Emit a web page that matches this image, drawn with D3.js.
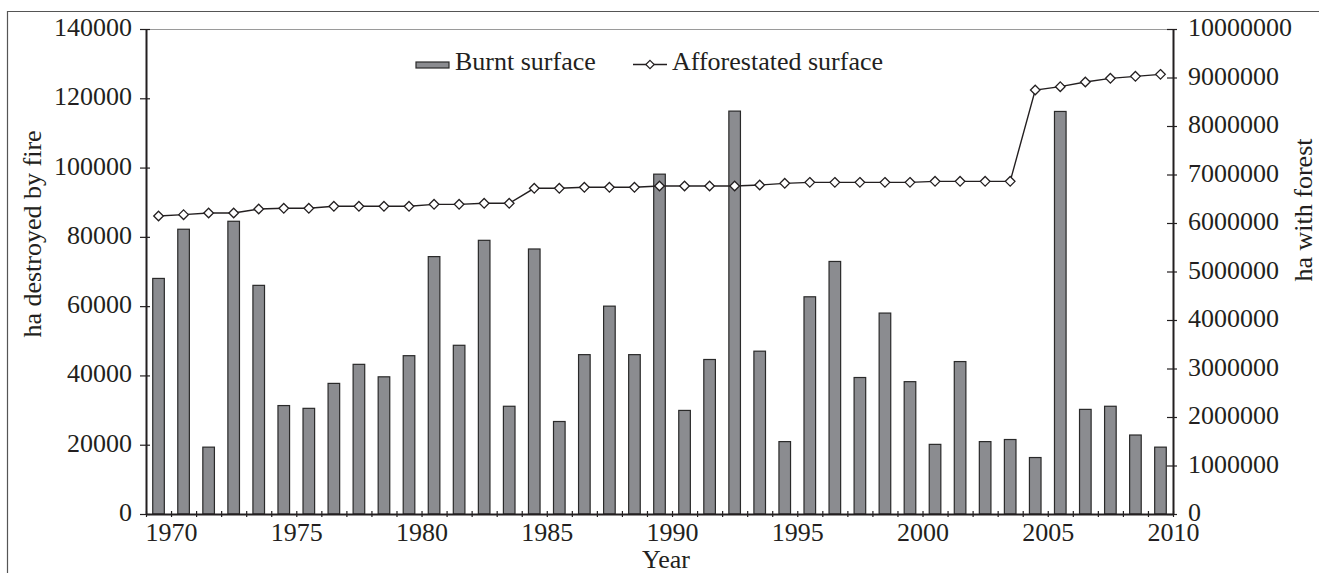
<!DOCTYPE html>
<html>
<head>
<meta charset="utf-8">
<script src="https://cdn.jsdelivr.net/npm/d3@7"></script>
<style>
  html, body { margin: 0; padding: 0; background: #fff; }
  svg { display: block; }
  text { font-family: "Liberation Serif", "Times New Roman", serif; fill: #231f20; }
</style>
</head>
<body>
<svg id="chart" width="1319" height="573"></svg>
<script>
const years = d3.range(1970, 2011);
const burntSurface = [
  68000, 82200, 19300, 84500, 66000, 31300, 30500, 37700, 43200, 39600,
  45700, 74300, 48700, 79000, 31100, 76500, 26700, 46000, 60000, 46000,
  98100, 29900, 44600, 116300, 47000, 20900, 62700, 72900, 39400, 58000,
  38200, 20100, 44000, 20900, 21500, 16300, 116200, 30200, 31100, 22800,
  19300
];
const afforestatedSurface = [
  6144000, 6172000, 6206000, 6206000, 6289000, 6303000, 6303000, 6344000, 6344000, 6344000,
  6344000, 6385000, 6385000, 6406000, 6406000, 6715000, 6715000, 6736000, 6736000, 6736000,
  6763000, 6763000, 6763000, 6763000, 6783000, 6818000, 6838000, 6838000, 6838000, 6838000,
  6838000, 6859000, 6859000, 6859000, 6859000, 8742000, 8811000, 8907000, 8983000, 9024000,
  9065000
];
const leftTicks = [0, 20000, 40000, 60000, 80000, 100000, 120000, 140000];
const rightTicks = [0, 1000000, 2000000, 3000000, 4000000, 5000000, 6000000, 7000000, 8000000, 9000000, 10000000];
const yearLabels = [1970, 1975, 1980, 1985, 1990, 1995, 2000, 2005, 2010];
const seriesNames = ["Burnt surface", "Afforestated surface"];
const leftTitle = "ha destroyed by fire";
const rightTitle = "ha with forest";
const xTitle = "Year";

const svg = d3.select("#chart");
const L = 146, R = 1173, T = 29, B = 514;
const FS = 26;
const ink = "#231f20";

const x = d3.scaleLinear().domain([1969, 2010]).range([L, R]);
const yL = d3.scaleLinear().domain([0, 140000]).range([B, T]);
const yR = d3.scaleLinear().domain([0, 10000000]).range([B, T]);

// outer frame
svg.append("path").attr("d", `M7.5,${573} L7.5,11.5 L1319,11.5`)
  .attr("fill", "none").attr("stroke", "#555").attr("stroke-width", 1.2);

// plot top border
svg.append("line").attr("x1", L).attr("x2", R).attr("y1", T + 0.5).attr("y2", T + 0.5)
  .attr("stroke", "#9a9a9a").attr("stroke-width", 1);

// bars
const bw = 11.6;
svg.append("g").selectAll("rect").data(years).join("rect")
  .attr("x", (d) => x(d - 0.5) - bw / 2)
  .attr("width", bw)
  .attr("y", (d, i) => yL(burntSurface[i]))
  .attr("height", (d, i) => B - yL(burntSurface[i]))
  .attr("fill", "#8b8c90")
  .attr("stroke", "#2a2a2a")
  .attr("stroke-width", 1.2);

// line
const line = d3.line().x((d) => x(d[0] - 0.5)).y((d) => yR(d[1]));
const pts = years.map((yv, i) => [yv, afforestatedSurface[i]]);
svg.append("path").datum(pts).attr("d", line)
  .attr("fill", "none").attr("stroke", ink).attr("stroke-width", 1.4);
const diamond = (cx, cy, r) => `M${cx},${cy - r} L${cx + r},${cy} L${cx},${cy + r} L${cx - r},${cy} Z`;
svg.append("g").selectAll("path").data(pts).join("path")
  .attr("d", (d) => diamond(x(d[0] - 0.5), yR(d[1]), 4.8))
  .attr("fill", "#fff").attr("stroke", ink).attr("stroke-width", 1.3);

// axes
const axL = svg.append("g").attr("transform", `translate(${L},0)`)
  .call(d3.axisLeft(yL).tickValues(leftTicks).tickFormat(d3.format("d")).tickSizeOuter(0).tickPadding(8));
axL.selectAll(".tick line").attr("x1", -6).attr("x2", 4);
const axR = svg.append("g").attr("transform", `translate(${R},0)`)
  .call(d3.axisRight(yR).tickValues(rightTicks).tickFormat(d3.format("d")).tickSizeOuter(0).tickPadding(9));
axR.selectAll(".tick line").attr("x1", -6).attr("x2", 4);
const axB = svg.append("g").attr("transform", `translate(0,${B})`)
  .call(d3.axisBottom(x).tickValues(d3.range(1969, 2011)).tickFormat((d) => yearLabels.includes(d) ? d : "").tickSizeOuter(0));
axB.selectAll(".tick line").attr("y1", -3).attr("y2", 3);

[axL, axR, axB].forEach((a) => {
  a.selectAll(".domain").attr("stroke", ink).attr("stroke-width", 2);
  a.selectAll(".tick line").attr("stroke", ink).attr("stroke-width", 1.2);
  a.selectAll("text").attr("font-family", "Liberation Serif").attr("font-size", FS).attr("fill", ink);
});
axL.selectAll("text").attr("dy", "0.25em");
axR.selectAll("text").attr("dy", "0.25em");
axB.selectAll("text").attr("y", 27).attr("dy", 0);

// titles
svg.append("text").attr("transform", `translate(41,234) rotate(-90)`)
  .attr("text-anchor", "middle").attr("font-size", FS).text(leftTitle);
svg.append("text").attr("transform", `translate(1312,210) rotate(-90)`)
  .attr("text-anchor", "middle").attr("font-size", FS).text(rightTitle);
svg.append("text").attr("x", 666).attr("y", 568)
  .attr("text-anchor", "middle").attr("font-size", FS).text(xTitle);

// legend
const lg = svg.append("g");
lg.append("rect").attr("x", 416).attr("y", 62).attr("width", 33).attr("height", 6)
  .attr("fill", "#8b8c90").attr("stroke", "#2a2a2a").attr("stroke-width", 1.2);
lg.append("text").attr("x", 455).attr("y", 70).attr("font-size", FS).text(seriesNames[0]);
lg.append("line").attr("x1", 633).attr("x2", 667).attr("y1", 64.5).attr("y2", 64.5)
  .attr("stroke", ink).attr("stroke-width", 1.4);
lg.append("path").attr("d", diamond(650, 64.5, 4.2)).attr("fill", "#fff").attr("stroke", ink).attr("stroke-width", 1.2);
lg.append("text").attr("x", 672).attr("y", 70).attr("font-size", FS).text(seriesNames[1]);
</script>
</body>
</html>
